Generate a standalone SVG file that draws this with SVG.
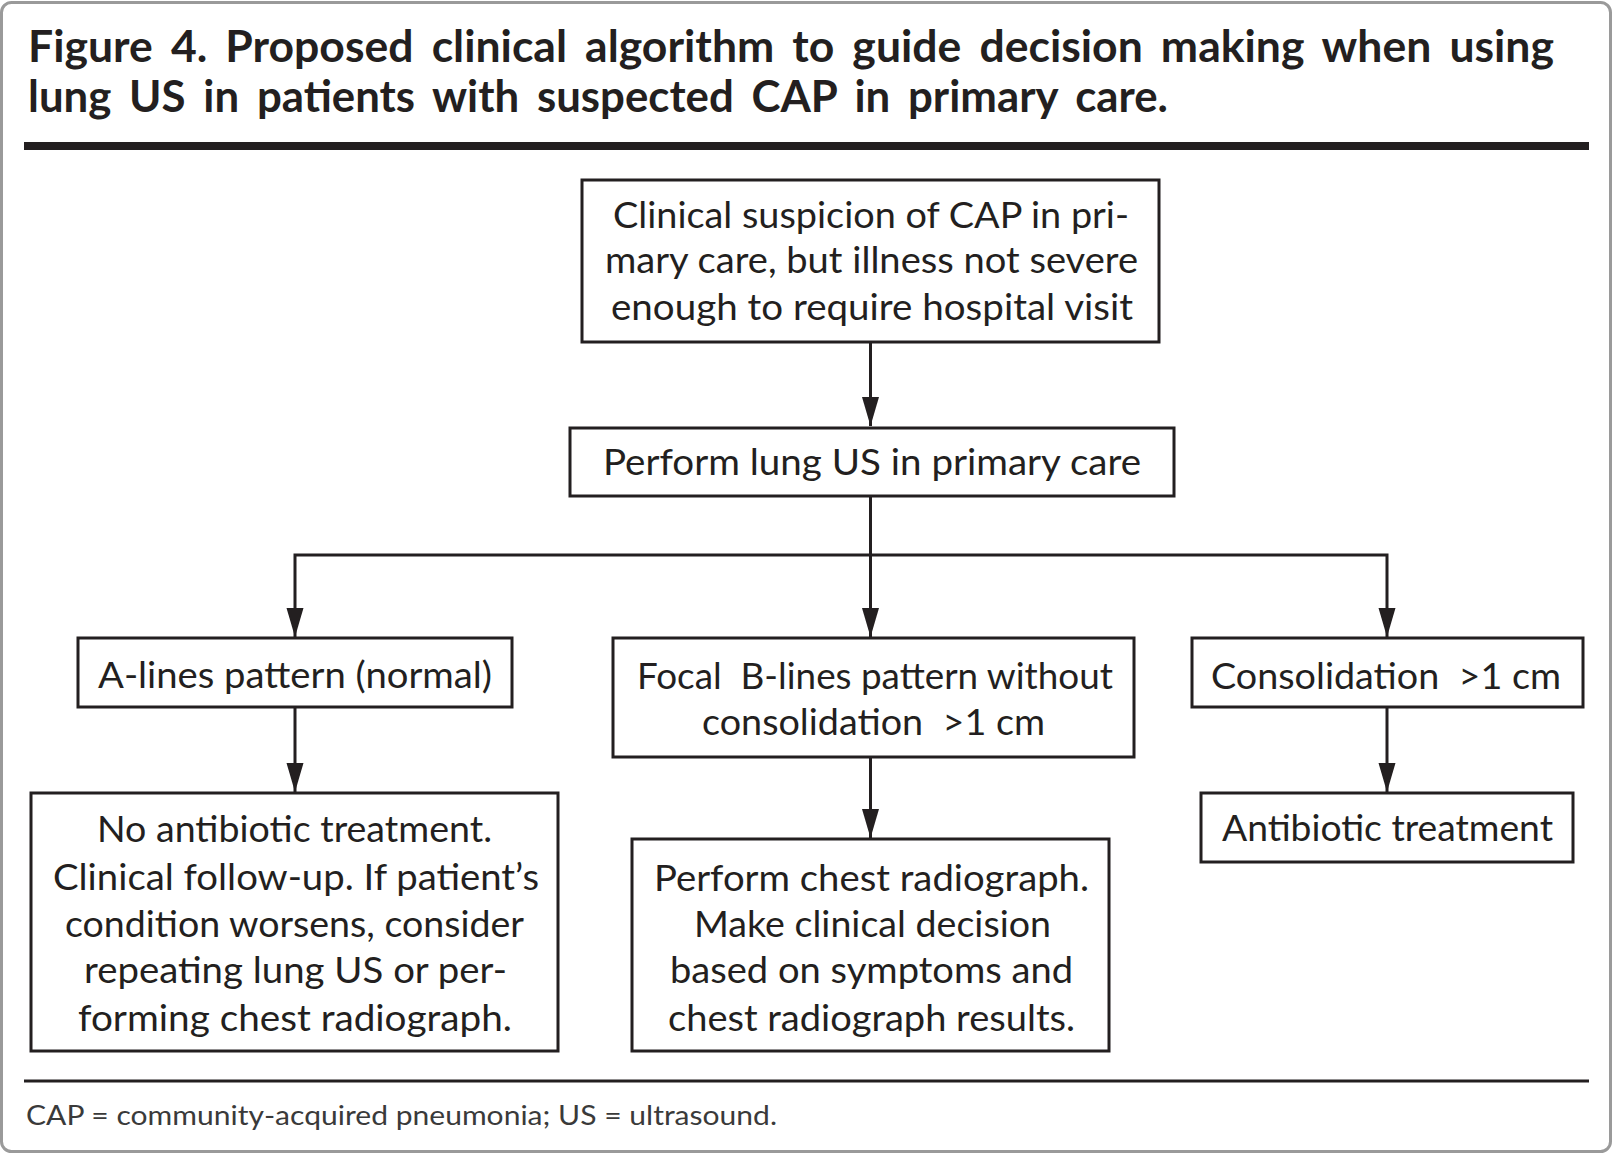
<svg xmlns="http://www.w3.org/2000/svg" width="1613" height="1154" viewBox="0 0 1613 1154">
<defs>
<style>
.frame{fill:#fff;stroke:#9a9a9a;stroke-width:3}
.box{fill:#fff;stroke:#231f20;stroke-width:3}
.t{font-family:Lato,"Open Sans","Liberation Sans",sans-serif;font-size:37px;fill:#231f20}
.title{font-family:Lato,"Open Sans","Liberation Sans",sans-serif;font-size:43px;font-weight:700;fill:#231f20;word-spacing:7px}
.note{font-family:Lato,"Open Sans","Liberation Sans",sans-serif;font-size:27px;fill:#3a3a3a}
.conn{fill:none;stroke:#231f20;stroke-width:3}
</style>
<marker id="arr" markerUnits="userSpaceOnUse" viewBox="0 -10 30 20" refX="29" refY="0" markerWidth="30" markerHeight="20" orient="auto">
<path d="M0,-8.5 L29,0 L0,8.5 Z" fill="#231f20"/>
</marker>
</defs>
<rect class="frame" x="1.5" y="2.5" width="1609" height="1149" rx="10"/>
<g id="title">
<text class="title" x="28" y="62" textLength="1526" lengthAdjust="spacingAndGlyphs">Figure 4. Proposed clinical algorithm to guide decision making when using</text>
<text class="title" x="28" y="112" textLength="1140" lengthAdjust="spacingAndGlyphs">lung US in patients with suspected CAP in primary care.</text>
<rect x="24" y="142" width="1565" height="8" fill="#231f20"/>
</g>
<g id="connectors">
<path class="conn" d="M870.5,342 V426" marker-end="url(#arr)"/>
<path class="conn" d="M870.5,496 V637" marker-end="url(#arr)"/>
<path class="conn" d="M870.5,555 H295 V637" marker-end="url(#arr)"/>
<path class="conn" d="M870.5,555 H1387 V637" marker-end="url(#arr)"/>
<path class="conn" d="M295,707 V792" marker-end="url(#arr)"/>
<path class="conn" d="M870.5,757 V838" marker-end="url(#arr)"/>
<path class="conn" d="M1387,707 V792" marker-end="url(#arr)"/>
</g>
<g id="n-suspicion">
<rect class="box" x="582" y="180" width="577" height="162"/>
<text class="t" x="613" y="228" textLength="516" lengthAdjust="spacingAndGlyphs">Clinical suspicion of CAP in pri-</text>
<text class="t" x="605" y="273" textLength="533" lengthAdjust="spacingAndGlyphs">mary care, but illness not severe</text>
<text class="t" x="611" y="320" textLength="522" lengthAdjust="spacingAndGlyphs">enough to require hospital visit</text>
</g>
<g id="n-perform-us">
<rect class="box" x="570" y="428" width="604" height="68"/>
<text class="t" x="603" y="475" textLength="538" lengthAdjust="spacingAndGlyphs">Perform lung US in primary care</text>
</g>
<g id="n-alines">
<rect class="box" x="78" y="638" width="434" height="69"/>
<text class="t" x="98" y="688" textLength="394" lengthAdjust="spacingAndGlyphs">A-lines pattern (normal)</text>
</g>
<g id="n-focal">
<rect class="box" x="613" y="638" width="521" height="119"/>
<text class="t" x="637" y="689" textLength="476" lengthAdjust="spacingAndGlyphs">Focal &#160;B-lines pattern without</text>
<text class="t" x="702" y="735" textLength="343" lengthAdjust="spacingAndGlyphs">consolidation &#160;&gt;1 cm</text>
</g>
<g id="n-consolidation">
<rect class="box" x="1192" y="638" width="391" height="69"/>
<text class="t" x="1211" y="689" textLength="350" lengthAdjust="spacingAndGlyphs">Consolidation &#160;&gt;1 cm</text>
</g>
<g id="n-no-antibiotic">
<rect class="box" x="31" y="793" width="527" height="258"/>
<text class="t" x="97" y="842" textLength="395" lengthAdjust="spacingAndGlyphs">No antibiotic treatment.</text>
<text class="t" x="53" y="890" textLength="486" lengthAdjust="spacingAndGlyphs">Clinical follow-up. If patient’s</text>
<text class="t" x="65" y="937" textLength="459" lengthAdjust="spacingAndGlyphs">condition worsens, consider</text>
<text class="t" x="84" y="983" textLength="423" lengthAdjust="spacingAndGlyphs">repeating lung US or per-</text>
<text class="t" x="78" y="1031" textLength="434" lengthAdjust="spacingAndGlyphs">forming chest radiograph.</text>
</g>
<g id="n-chest">
<rect class="box" x="632" y="839" width="477" height="212"/>
<text class="t" x="654" y="891" textLength="435" lengthAdjust="spacingAndGlyphs">Perform chest radiograph.</text>
<text class="t" x="694" y="937" textLength="357" lengthAdjust="spacingAndGlyphs">Make clinical decision</text>
<text class="t" x="670" y="983" textLength="403" lengthAdjust="spacingAndGlyphs">based on symptoms and</text>
<text class="t" x="668" y="1031" textLength="407" lengthAdjust="spacingAndGlyphs">chest radiograph results.</text>
</g>
<g id="n-antibiotic">
<rect class="box" x="1201" y="793" width="372" height="69"/>
<text class="t" x="1222" y="841" textLength="331" lengthAdjust="spacingAndGlyphs">Antibiotic treatment</text>
</g>
<g id="footnote">
<rect x="24" y="1079.5" width="1565" height="3" fill="#231f20"/>
<text class="note" x="26" y="1125" textLength="751" lengthAdjust="spacingAndGlyphs">CAP = community-acquired pneumonia; US = ultrasound.</text>
</g>
</svg>
